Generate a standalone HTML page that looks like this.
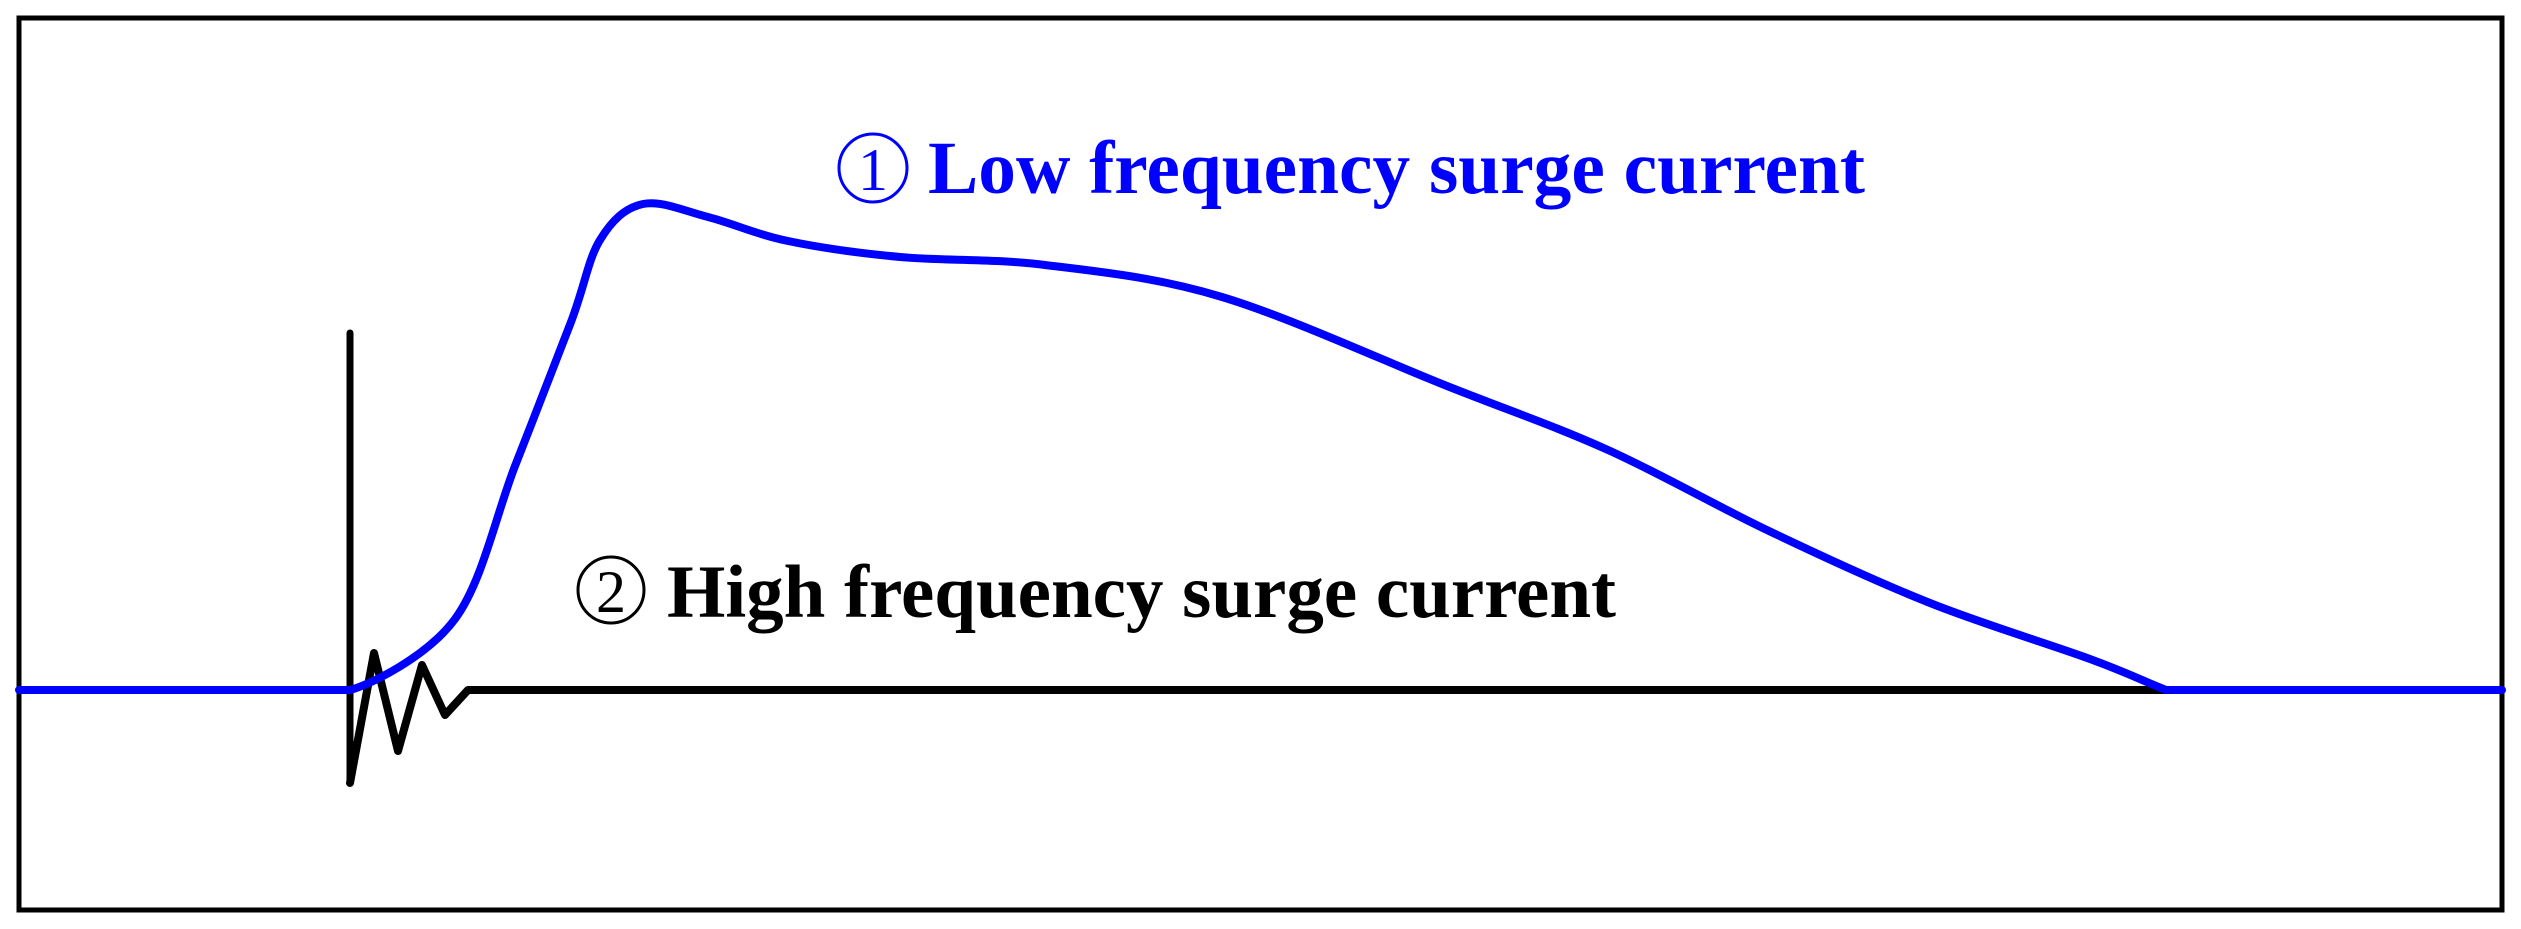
<!DOCTYPE html>
<html><head><style>html,body{margin:0;padding:0;background:#fff;}svg{display:block}</style></head>
<body>
<svg width="2521" height="929" viewBox="0 0 2521 929" xmlns="http://www.w3.org/2000/svg">
<rect x="19" y="18" width="2483" height="892" fill="none" stroke="#000" stroke-width="5"/>
<line x1="350" y1="333" x2="350" y2="783" stroke="#000" stroke-width="7" stroke-linecap="round"/>
<path d="M19,690 L350,690 M2166,690 L2502,690" stroke="#0000ff" stroke-width="8" stroke-linecap="round" fill="none"/>
<path d="M350,783 L374,653 L398,751 L422,665 L445,715 L468,690 L2166,690" stroke="#000" stroke-width="8" stroke-linejoin="round" stroke-linecap="round" fill="none"/>
<path d="M350,690 C370,685 427.5,656.3 455,619 C482.5,581.7 495.7,515.5 515,466 C534.3,416.5 556.8,359.7 571,322 C585.2,284.3 588,259.7 600,240 C612,220.3 625,207.8 643,204 C661,200.2 683.8,210.8 708,217 C732.2,223.2 756,234.3 788,241 C820,247.7 857.2,253 900,257 C942.8,261 991.3,258.3 1045,265 C1098.7,271.7 1155,276.8 1222,297 C1289,317.2 1382.7,360.5 1447,386 C1511.3,411.5 1554.3,425.8 1608,450 C1661.7,474.2 1715.3,505.5 1769,531 C1822.5,556.5 1876.5,581.7 1930,603 C1983.5,624.3 2050.7,644.5 2090,659 C2129.3,673.5 2141,680 2166,690" stroke="#0000ff" stroke-width="8" fill="none" stroke-linecap="round" stroke-linejoin="round"/>
<g font-family="Liberation Serif, serif" font-weight="bold">
<circle cx="873" cy="168" r="34" fill="none" stroke="#0000ff" stroke-width="3"/>
<text x="873" y="190" font-size="60" font-weight="normal" fill="#0000ff" text-anchor="middle">1</text>
<text x="928" y="193" font-size="75" fill="#0000ff" textLength="937" lengthAdjust="spacingAndGlyphs">Low frequency surge current</text>
<circle cx="611" cy="590" r="33" fill="none" stroke="#000" stroke-width="3"/>
<text x="611" y="612" font-size="60" font-weight="normal" fill="#000" text-anchor="middle">2</text>
<text x="667" y="617" font-size="75" fill="#000" textLength="949" lengthAdjust="spacingAndGlyphs">High frequency surge current</text>
</g>
</svg>
</body></html>
